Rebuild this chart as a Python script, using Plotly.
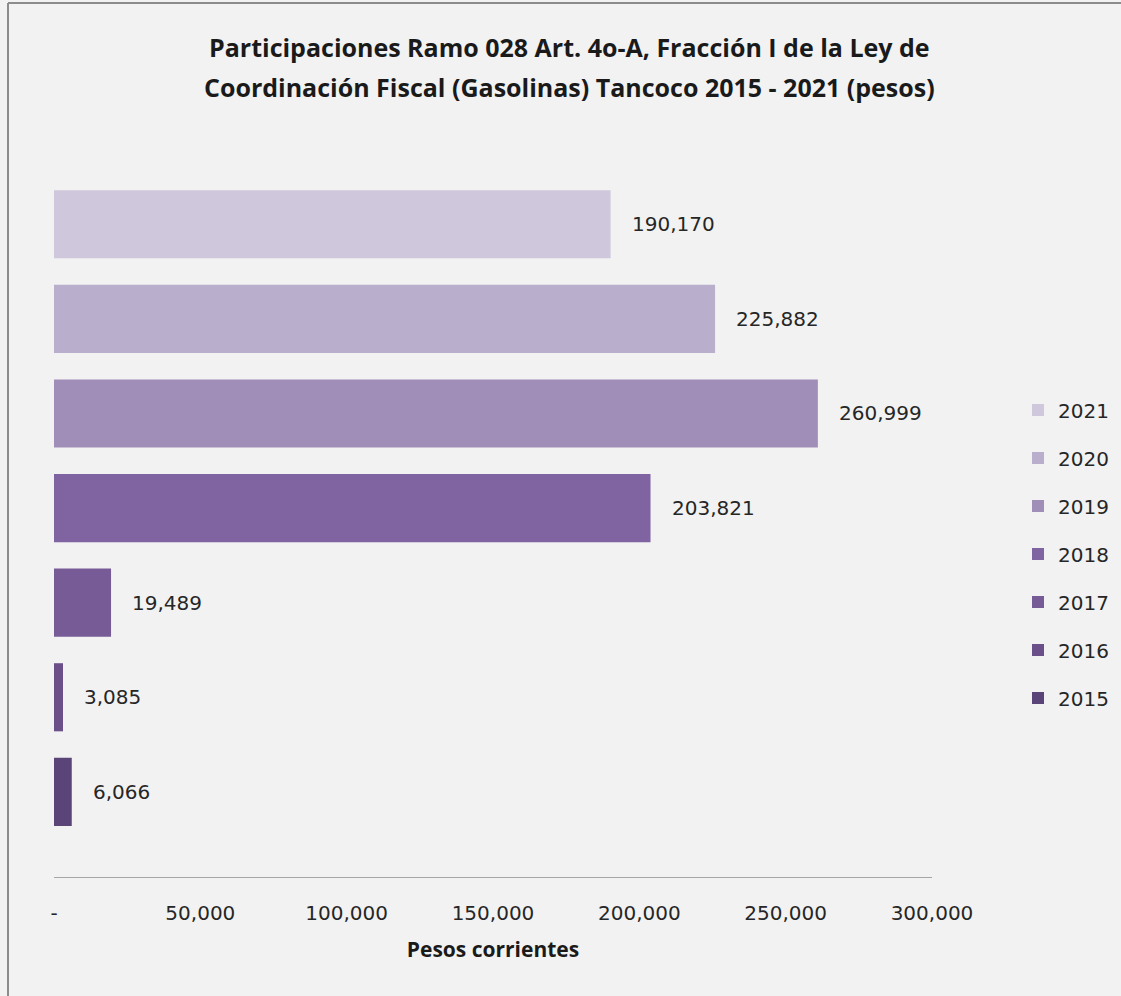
import plotly.graph_objects as go

years = ["2021", "2020", "2019", "2018", "2017", "2016", "2015"]
values = [190170, 225882, 260999, 203821, 19489, 3085, 6066]
colors = ["#cfc7dc", "#b9aecb", "#a08db8", "#8064a2", "#765b96", "#6a4f88", "#5b4477"]
tick_vals = [0, 50000, 100000, 150000, 200000, 250000, 300000]
tick_text = ["-", "50,000", "100,000", "150,000", "200,000", "250,000", "300,000"]
title_lines = ["Participaciones Ramo 028 Art. 4o-A, Fracción I de la Ley de",
               "Coordinación Fiscal (Gasolinas) Tancoco 2015 - 2021 (pesos)"]

TFONT = "Open Sans"
LFONT = "DejaVu Sans"

# plot area in pixels
L, R, T, B = 54, 932, 177, 877
W, H = 1121, 996
PW, PH = R - L, B - T

def px(x):
    return (x - L) / PW

def py(y):
    return (B - y) / PH

order = years[::-1]  # bottom to top

fig = go.Figure()
for yr, v, c in zip(years, values, colors):
    fig.add_trace(go.Bar(
        x=[v], y=[yr], orientation="h", name=yr,
        marker=dict(color=c, line=dict(width=0)),
        width=0.72, legendgroup=yr,
        hoverinfo="x+name",
    ))
    fig.add_annotation(
        x=v, y=order.index(yr), text=f"{v:,}", showarrow=False,
        xanchor="left", xshift=19,
        font=dict(family=LFONT, size=20, color="#262626"),
    )

for i, line in enumerate(title_lines):
    fig.add_annotation(
        xref="paper", yref="paper", x=px(569), y=py(47 + 40 * i),
        text=f"<b>{line}</b>", showarrow=False,
        xanchor="center", yanchor="middle",
        font=dict(family=TFONT, size=25, color="#1a1a1a"),
    )

fig.update_layout(
    width=W, height=H,
    paper_bgcolor="#f2f2f2", plot_bgcolor="#f2f2f2",
    margin=dict(l=L, r=W - R, t=T, b=H - B, autoexpand=False),
    barmode="overlay",
    showlegend=True,
    legend=dict(
        x=px(1018), xanchor="left", y=py(554), yanchor="middle",
        traceorder="grouped", tracegroupgap=19,
        font=dict(family=LFONT, size=20, color="#262626"),
        bgcolor="rgba(0,0,0,0)", itemwidth=30,
    ),
    xaxis=dict(
        range=[0, 300000], tickvals=tick_vals, ticktext=tick_text,
        showgrid=False, zeroline=False,
        showline=True, linecolor="#a6a6a6", linewidth=1,
        ticks="outside", ticklen=18, tickcolor="rgba(0,0,0,0)",
        tickfont=dict(family=LFONT, size=20, color="#262626"),
        title=dict(text="<b>Pesos corrientes</b>", standoff=18,
                   font=dict(family=TFONT, size=21, color="#1a1a1a")),
    ),
    yaxis=dict(
        type="category",
        categoryorder="array", categoryarray=order,
        range=[-0.9, 6.5], showticklabels=False, showgrid=False,
        zeroline=False, showline=False, ticks="",
    ),
    shapes=[
        dict(type="line", xref="paper", yref="paper",
             x0=px(8), x1=px(W + 5), y0=py(3), y1=py(3),
             line=dict(color="#8c8c8c", width=2)),
        dict(type="line", xref="paper", yref="paper",
             x0=px(8), x1=px(8), y0=py(3), y1=py(H + 5),
             line=dict(color="#8c8c8c", width=2)),
    ],
)

fig.write_html(
    "out.html",
    config={"displayModeBar": False},
    post_script="document.body.style.margin='0';document.body.style.overflow='hidden';",
)
